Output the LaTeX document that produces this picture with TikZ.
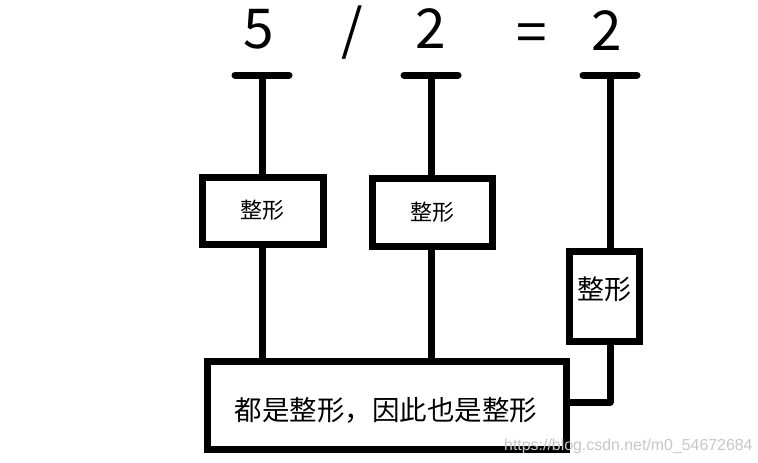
\documentclass[tikz,border=0pt]{standalone}
\usepackage{fontspec}
\setmainfont{Noto Sans CJK SC}
\newfontfamily\wmfont{Liberation Sans}
\begin{document}
\begin{tikzpicture}[x=1pt,y=-1pt,
  boxnode/.style={draw=black,line width=7pt,fill=white,inner sep=0pt,outer sep=0pt},
  conn/.style={line width=7pt,line join=round},
  tbar/.style={line width=7pt,line cap=round},
  bigtxt/.style={inner sep=0pt,anchor=base,text height=40pt,text depth=0pt,font=\fontsize{55}{60}\selectfont}]
\useasboundingbox (0,0) rectangle (758,463);
\fill[white] (0,0) rectangle (758,463);
% equation
\node[bigtxt] (n5) at (259,48) {5};
\node[bigtxt] (sl) at (352,49) {/};
\node[bigtxt] (n2a) at (431,48) {2};
\node[bigtxt] (eq) at (532,52) {=};
\node[bigtxt] (n2b) at (607,50) {2};
% T-bar tops
\coordinate (t1) at (262,75);
\coordinate (t2) at (431,75);
\coordinate (t3) at (610,75);
% boxes
\node[boxnode,minimum width=121pt,minimum height=67pt,font=\fontsize{22}{24}\selectfont] (b1) at (262.5,210.5) {整形};
\node[boxnode,minimum width=120pt,minimum height=68pt,font=\fontsize{22}{24}\selectfont] (b2) at (432,212) {整形};
\node[boxnode,minimum width=70pt,minimum height=90pt,anchor=north] (b3) at (604,251) {};
\node[font=\fontsize{27}{30}\selectfont,inner sep=0pt] (b3t) at (604,289) {整形};
\node[boxnode,minimum width=359pt,minimum height=88pt] (bot) at (386.5,405) {};
\node[font=\fontsize{27.5}{30}\selectfont,inner sep=0pt] (bott) at (386,410) {都是整形，因此也是整形};
% T bars
\draw[tbar] ([xshift=-27pt]t1) -- ([xshift=27pt]t1);
\draw[tbar] ([xshift=-27pt]t2) -- ([xshift=27pt]t2);
\draw[tbar] ([xshift=-27pt]t3) -- ([xshift=27pt]t3);
% connectors
\draw[conn] (t1) -- (t1 |- b1.north);
\draw[conn] (t2) -- (t2 |- b2.north);
\draw[conn] (t3) -- (t3 |- b3.north);
\draw[conn] (b1.south) -- (b1.south |- bot.north);
\draw[conn] (t2 |- b2.south) -- (t2 |- bot.north);
\draw[conn] ([yshift=3pt]bot.east) -| (t3 |- b3.south);
% watermark
\node[anchor=west,inner sep=0pt,text=black!22,font=\wmfont\fontsize{15.9}{17}\selectfont] (wm) at (504,446) {https://blog.csdn.net/m0\_54672684};
\end{tikzpicture}
\end{document}
